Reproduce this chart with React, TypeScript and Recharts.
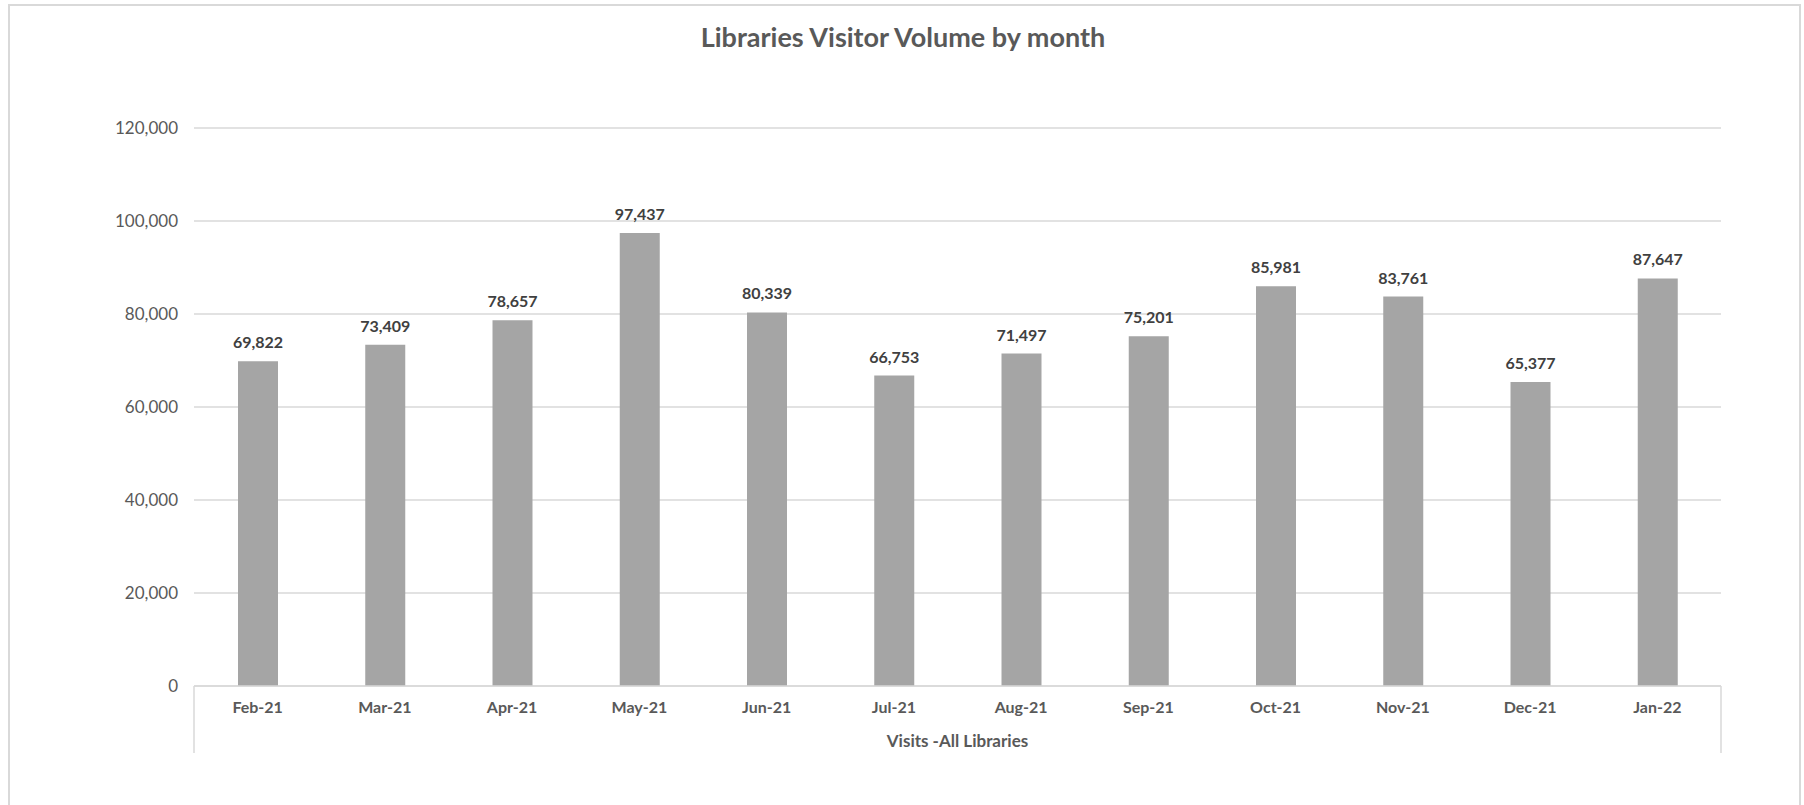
import React from 'react';
import { BarChart, Bar, XAxis, YAxis, CartesianGrid, LabelList } from 'recharts';

const TITLE = 'Libraries Visitor Volume by month';
const AXIS_TITLE = 'Visits -All Libraries';
const months = ['Feb-21', 'Mar-21', 'Apr-21', 'May-21', 'Jun-21', 'Jul-21', 'Aug-21', 'Sep-21', 'Oct-21', 'Nov-21', 'Dec-21', 'Jan-22'];
const visits = [69822, 73409, 78657, 97437, 80339, 66753, 71497, 75201, 85981, 83761, 65377, 87647];
const yTicks = [0, 20000, 40000, 60000, 80000, 100000, 120000];

const data = months.map((m, i) => ({ month: m, visits: visits[i] }));

const FONT = 'Lato, "Open Sans", sans-serif';
const GREY = '#595959';
const LINE = '#D9D9D9';
const X_TICK_MARGIN = 16;
const GROUP_LINE_LEN = 67;

const fmt = (v: number) => Number(v).toLocaleString('en-US');

const CategoryTick = (props: any) => {
  const { x, y, payload, index, visibleTicksCount } = props;
  const half = payload && typeof payload.offset === 'number' ? payload.offset : 0;
  const top = y - X_TICK_MARGIN;
  return (
    <g>
      <text x={x} y={y} dy="0.71em" textAnchor="middle" fill={GREY} fontFamily={FONT} fontWeight={700} fontSize={16}>
        {payload.value}
      </text>
      {index === 0 && half > 0 ? (
        <line x1={x - half} x2={x - half} y1={top} y2={top + GROUP_LINE_LEN} stroke={LINE} strokeWidth={1.5} />
      ) : null}
      {index === visibleTicksCount - 1 && half > 0 ? (
        <line x1={x + half} x2={x + half} y1={top} y2={top + GROUP_LINE_LEN} stroke={LINE} strokeWidth={1.5} />
      ) : null}
    </g>
  );
};

export default function App() {
  return (
    <div style={{ position: 'absolute', left: 0, top: 0, width: 1804, height: 805, background: '#fff', overflow: 'hidden' }}>
      <div
        style={{
          position: 'absolute',
          left: 8,
          top: 4,
          width: 1789,
          height: 820,
          borderLeft: `2px solid ${LINE}`,
          borderTop: `2px solid ${LINE}`,
          borderRight: `2px solid ${LINE}`,
          boxSizing: 'content-box',
        }}
      />
      <div
        style={{
          position: 'absolute',
          left: 0,
          top: 21,
          width: 1806,
          textAlign: 'center',
          fontFamily: FONT,
          fontWeight: 700,
          fontSize: 27,
          lineHeight: '32px',
          color: GREY,
        }}
      >
        {TITLE}
      </div>
      <div style={{ position: 'absolute', left: 0, top: 0 }}>
        <BarChart width={1804} height={805} data={data} margin={{ top: 128, right: 83, bottom: 89, left: 0 }}>
          <CartesianGrid vertical={false} stroke={LINE} strokeWidth={1.3} />
          <XAxis
            dataKey="month"
            height={30}
            axisLine={{ stroke: LINE, strokeWidth: 1.5 }}
            tickLine={false}
            tickSize={0}
            tickMargin={X_TICK_MARGIN}
            interval={0}
            tick={<CategoryTick />}
            label={{
              value: AXIS_TITLE,
              position: 'bottom',
              offset: 19,
              fill: GREY,
              fontFamily: FONT,
              fontWeight: 700,
              fontSize: 17,
            }}
          />
          <YAxis
            width={194}
            domain={[0, 120000]}
            ticks={yTicks}
            axisLine={false}
            tickLine={false}
            tickSize={0}
            tickMargin={16}
            tickFormatter={fmt}
            tick={{ fill: GREY, fontFamily: FONT, fontSize: 17 }}
          />
          <Bar dataKey="visits" fill="#A5A5A5" barSize={40} isAnimationActive={false}>
            <LabelList
              dataKey="visits"
              position="top"
              offset={13}
              formatter={fmt}
              fill="#404040"
              fontFamily={FONT}
              fontWeight={700}
              fontSize={16}
            />
          </Bar>
        </BarChart>
      </div>
    </div>
  );
}
